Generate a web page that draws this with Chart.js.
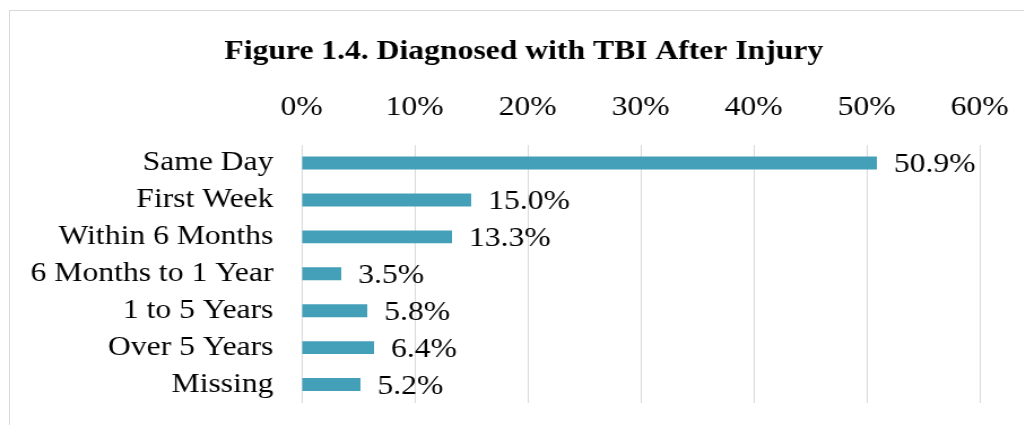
<!DOCTYPE html>
<html>
<head>
<meta charset="utf-8">
<script src="https://cdn.jsdelivr.net/npm/chart.js@4"></script>
<style>
  body { margin: 0; background: #fff; overflow: hidden; }
  #marco { position: absolute; left: 9px; top: 10px; width: 1100px; height: 500px;
           border-left: 1px solid #d9d9d9; border-top: 1px solid #d9d9d9; }
  #grafico { position: absolute; left: 0; top: 0; width: 906px; height: 425px;
             transform: scaleX(1.13); transform-origin: 0 0; }
</style>
</head>
<body>
<div id="marco"></div>
<canvas id="grafico" width="906" height="425"></canvas>
<script>
const categorias = ['Same Day', 'First Week', 'Within 6 Months', '6 Months to 1 Year', '1 to 5 Years', 'Over 5 Years', 'Missing'];
const porcentajes = [50.9, 15.0, 13.3, 3.5, 5.8, 6.4, 5.2];
const ticksX = [0, 10, 20, 30, 40, 50, 60];

const fuente = '"Liberation Serif", "Times New Roman", serif';

// etiquetas de valor a la derecha de cada barra
const etiquetas = {
  id: 'etiquetas',
  afterDatasetsDraw(chart) {
    const ctx = chart.ctx;
    ctx.save();
    ctx.font = '28px ' + fuente;
    ctx.fillStyle = '#000';
    ctx.textAlign = 'left';
    ctx.textBaseline = 'middle';
    chart.getDatasetMeta(0).data.forEach((bar, i) => {
      ctx.fillText(porcentajes[i].toFixed(1) + '%', bar.x + 15, bar.y + 2);
    });
    ctx.restore();
  }
};

// relleno de los ejes fijado a mano
const fijarPadding = (s, der) => { s.paddingLeft = 0; s.paddingRight = der; s.paddingTop = 0; s.paddingBottom = 0; };

function dibujar() {
  const ctx = document.getElementById('grafico').getContext('2d');
  window.miGrafico = new Chart(ctx, {
    type: 'bar',
    data: {
      labels: categorias,
      datasets: [{
        data: porcentajes,
        backgroundColor: '#44a0b9',
        borderWidth: 0,
        categoryPercentage: 1,
        barPercentage: 0.35
      }]
    },
    plugins: [etiquetas],
    options: {
      indexAxis: 'y',
      responsive: false,
      animation: false,
      layout: { padding: { left: 21, right: 0, top: 0, bottom: 22 } },
      plugins: {
        legend: { display: false },
        tooltip: { enabled: false },
        title: {
          display: true,
          text: 'Figure 1.4. Diagnosed with TBI After Injury',
          color: '#000',
          font: { family: fuente, size: 28, weight: 'bold', lineHeight: 1.2 },
          padding: { top: 35, bottom: 6 }
        }
      },
      scales: {
        x: {
          position: 'top',
          min: 0,
          max: 60,
          afterBuildTicks: s => { s.ticks = ticksX.map(v => ({ value: v })); },
          afterFit: s => { s.height = 70; fijarPadding(s, 39); },
          grid: { color: '#d9d9d9', lineWidth: 1, drawTicks: false },
          border: { display: false },
          ticks: {
            padding: 20,
            color: '#000',
            font: { family: fuente, size: 28 },
            callback: v => v + '%'
          }
        },
        y: {
          afterFit: s => { s.width = 246; fijarPadding(s, 0); },
          grid: { display: false, drawTicks: false },
          border: { display: false },
          ticks: {
            autoSkip: false,
            padding: 25,
            color: '#000',
            font: { family: fuente, size: 28 }
          }
        }
      }
    }
  });
}

if (document.fonts && document.fonts.load) {
  Promise.all([
    document.fonts.load('28px "Liberation Serif"'),
    document.fonts.load('bold 28px "Liberation Serif"')
  ]).then(dibujar, dibujar);
} else {
  dibujar();
}
</script>
</body>
</html>
